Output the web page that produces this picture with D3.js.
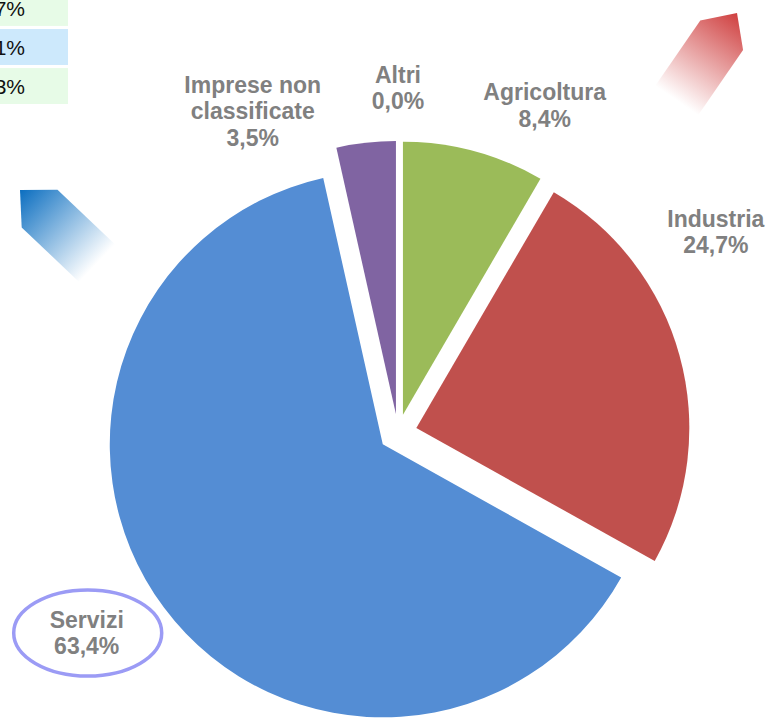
<!DOCTYPE html>
<html>
<head>
<meta charset="utf-8">
<script src="https://cdn.jsdelivr.net/npm/d3@7"></script>
<style>
  body { margin: 0; background: #fff; }
  svg { display: block; }
  .lbl { font-family: "Liberation Sans", Arial, sans-serif; font-weight: bold; font-size: 23px; fill: #808080; }
  .cell { font-family: "Liberation Sans", Arial, sans-serif; font-size: 21px; fill: #111; }
</style>
</head>
<body>
<div id="chart"></div>
<script>
// data
var categories = ["Altri", "Agricoltura", "Industria", "Servizi", "Imprese non classificate"];
var shares = [0.0, 8.4, 24.7, 63.4, 3.5];
var colors = ["#7f7f7f", "#9bbb59", "#c0504d", "#548dd4", "#8064a2"];
// label lines (the category name is wrapped the way the picture shows it)
var labelLines = [["Altri"], ["Agricoltura"], ["Industria"], ["Servizi"], ["Imprese non", "classificate"]];

// cropped table in the corner: visible tails of the values
var tableTexts = ["7%", "1%", "3%"];
var tableFills = ["#e7fbe7", "#cde9fc", "#e7fbe7"];

var W = 775, H = 718;
var cx = 398, cy = 433, R = 273, explode = 19;

var fmt = d3.formatLocale({decimal: ",", thousands: ".", grouping: [3], currency: ["", "€"]}).format(".1f");

var svg = d3.select("#chart").append("svg")
    .attr("width", W)
    .attr("height", H);

var defs = svg.append("defs");

// ---- table fragment top-left
var rowY = d3.scaleBand().domain(d3.range(tableTexts.length)).range([-10, 104]).paddingInner(0.08);
var rows = svg.selectAll("g.row").data(tableTexts).enter().append("g").attr("class", "row");
rows.append("rect")
    .attr("x", 0)
    .attr("y", function (d, i) { return rowY(i); })
    .attr("width", 68)
    .attr("height", rowY.bandwidth())
    .style("fill", function (d, i) { return tableFills[i]; });
rows.append("text")
    .attr("class", "cell")
    .attr("text-anchor", "end")
    .attr("x", 25)
    .attr("y", function (d, i) { return rowY(i) + rowY.bandwidth() / 2 + 8; })
    .text(function (d) { return d; });

// ---- decorative arrows
function arrow(id, tip, angle, color) {
    var L = 125, hw = 26, head = 27;
    var g = defs.append("linearGradient")
        .attr("id", id)
        .attr("gradientUnits", "userSpaceOnUse")
        .attr("x1", 0).attr("y1", 0).attr("x2", -L).attr("y2", 0);
    g.append("stop").attr("offset", 0).attr("stop-color", color);
    g.append("stop").attr("offset", 0.85).attr("stop-color", "#fff");
    g.append("stop").attr("offset", 1).attr("stop-color", "#fff");
    svg.append("path")
        .attr("transform", "translate(" + tip[0] + "," + tip[1] + ") rotate(" + angle + ")")
        .attr("d", d3.line()([[0, 0], [-head, -hw], [-L, -hw], [-L, hw], [-head, hw]]) + "Z")
        .style("fill", "url(#" + id + ")");
}
arrow("gBlue", [20, 190], -136.5, "#0b6ec0");
arrow("gRed", [737, 13], -55.4, "#cf4040");

// ---- pie
var pie = d3.pie().sort(null).value(function (d) { return d; });
var arcs = pie(shares);
var arc = d3.arc().innerRadius(0).outerRadius(R);

function mid(d) { return (d.startAngle + d.endAngle) / 2; }

var slices = svg.append("g")
    .attr("transform", "translate(" + cx + "," + cy + ")");

slices.selectAll("path")
    .data(arcs)
    .enter().append("path")
    .attr("transform", function (d) {
        var a = mid(d);
        return "translate(" + (explode * Math.sin(a)) + "," + (-explode * Math.cos(a)) + ")";
    })
    .attr("d", arc)
    .style("fill", function (d, i) { return colors[i]; });

// labels sit outside the pie, nudged round the rim the way the chart has them
var labelShift = [0, 9, -17, 4, -18];   // degrees
var labelDist = [345, 359, 376, 370, 353];
var lineH = 26.5;

var labels = slices.selectAll("text.lbl")
    .data(arcs)
    .enter().append("text")
    .attr("class", "lbl")
    .attr("text-anchor", "middle")
    .attr("transform", function (d, i) {
        var a = mid(d) + labelShift[i] * Math.PI / 180;
        return "translate(" + (labelDist[i] * Math.sin(a)) + "," + (-labelDist[i] * Math.cos(a)) + ")";
    });

labels.each(function (d, i) {
    var lines = labelLines[i].concat([fmt(shares[i]) + "%"]);
    var t = d3.select(this);
    var y0 = -(lines.length - 1) * lineH / 2 + 8;
    lines.forEach(function (s, k) {
        t.append("tspan").attr("x", 0).attr("y", y0 + k * lineH).text(s);
    });
});

// highlight ring round the Servizi label
var iS = categories.indexOf("Servizi");
var aS = mid(arcs[iS]) + labelShift[iS] * Math.PI / 180;
slices.append("ellipse")
    .attr("cx", labelDist[iS] * Math.sin(aS) + 1)
    .attr("cy", -labelDist[iS] * Math.cos(aS))
    .attr("rx", 74)
    .attr("ry", 43)
    .style("fill", "none")
    .style("stroke", "#9b9bf5")
    .style("stroke-width", 3.5);
</script>
</body>
</html>
